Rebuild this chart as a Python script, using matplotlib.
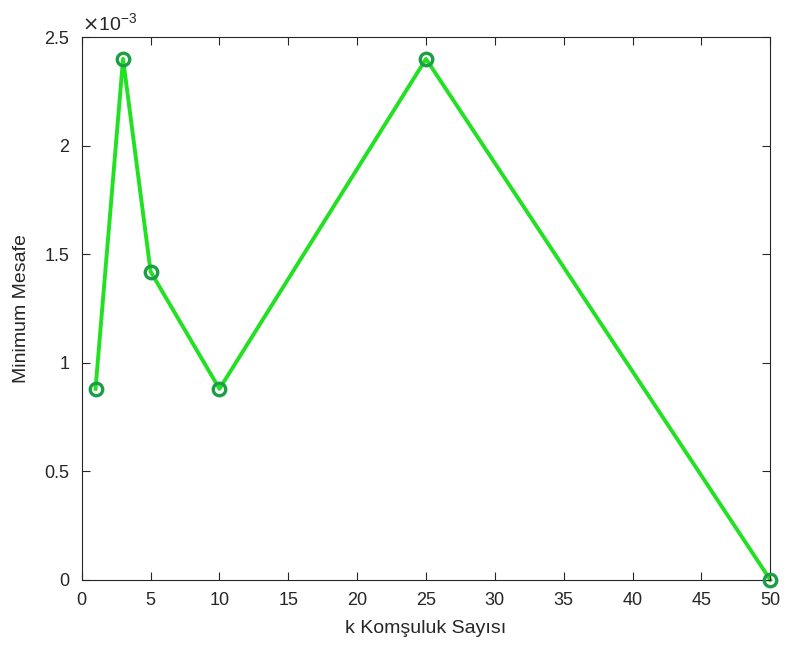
import numpy as np
import matplotlib
matplotlib.use("Agg")
import matplotlib.pyplot as plt
from matplotlib.ticker import FuncFormatter

# data
k_values = [1, 3, 5, 10, 25, 50]
min_dist = [0.88e-3, 2.40e-3, 1.42e-3, 0.88e-3, 2.40e-3, 0.0]
scale = 1e-3

plt.rcParams['font.family'] = ['Liberation Sans', 'DejaVu Sans']

fig = plt.figure(figsize=(7.86, 6.53), dpi=100)
ax = fig.add_axes([0.104, 0.112, 0.876, 0.831])

y_scaled = np.array(min_dist) / scale
ax.plot(k_values, y_scaled, '-', color='#22e022', lw=2.8, zorder=2, clip_on=False)
ax.plot(k_values, y_scaled, 'o', ms=9, mfc='none', mec='#1b9e45', mew=2.4,
        zorder=3, clip_on=False)

ax.set_xlim(0, 50)
ax.set_ylim(0, 2.5)
ax.set_xticks(np.arange(0, 51, 5))
ax.set_yticks(np.arange(0, 2.51, 0.5))
ax.yaxis.set_major_formatter(FuncFormatter(lambda v, p: f"{v:g}"))

ax.tick_params(direction='in', top=True, right=True, labelsize=13,
               colors='#262626', length=6, width=0.8)
ax.tick_params(axis='x', pad=9)
ax.tick_params(axis='y', pad=9)
for s in ax.spines.values():
    s.set_color('#262626')
    s.set_linewidth(0.8)

ax.set_xlabel('k Komşuluk Sayısı', fontsize=14, color='#262626', labelpad=8)
ax.set_ylabel('Minimum Mesafe', fontsize=14, color='#262626', labelpad=10)
ax.text(0.0, 1.006, r'$\times\mathregular{10^{-3}}$', transform=ax.transAxes,
        fontsize=14, color='#262626', va='bottom', ha='left')

fig.savefig('out.png', dpi=100)
